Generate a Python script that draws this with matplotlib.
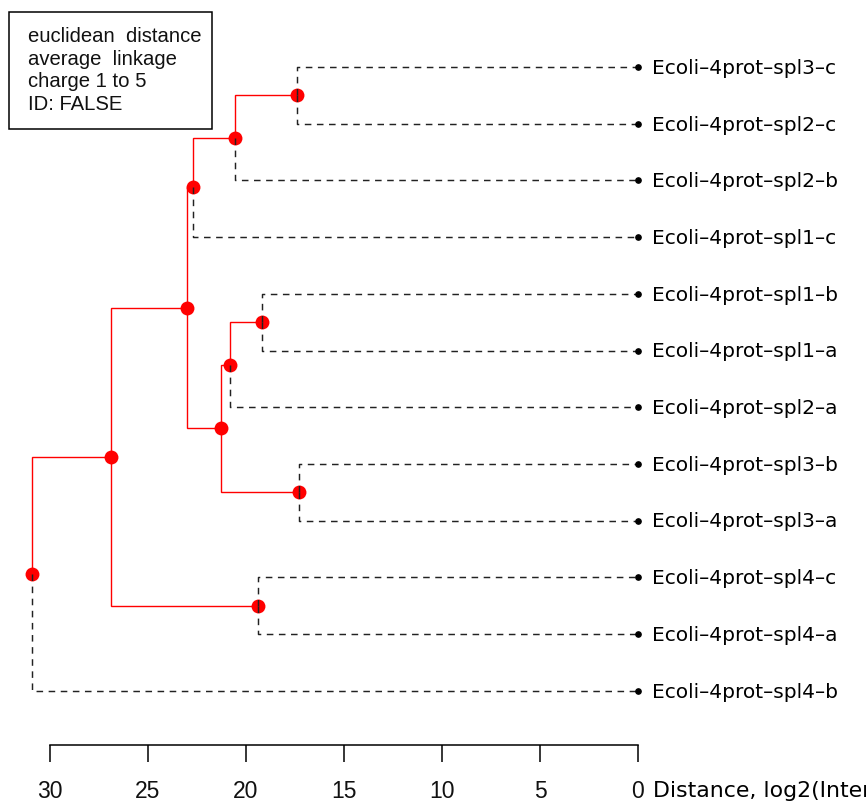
import matplotlib
matplotlib.use("Agg")
import matplotlib.pyplot as plt
from matplotlib.patches import Rectangle

# -------------------------------------------------------
# DATA
# -------------------------------------------------------

# leaves in display order, top to bottom
leaf_labels = [
    "Ecoli–4prot–spl3–c",
    "Ecoli–4prot–spl2–c",
    "Ecoli–4prot–spl2–b",
    "Ecoli–4prot–spl1–c",
    "Ecoli–4prot–spl1–b",
    "Ecoli–4prot–spl1–a",
    "Ecoli–4prot–spl2–a",
    "Ecoli–4prot–spl3–b",
    "Ecoli–4prot–spl3–a",
    "Ecoli–4prot–spl4–c",
    "Ecoli–4prot–spl4–a",
    "Ecoli–4prot–spl4–b",
]

# merges: node ids < 12 are leaves, new node = 12 + row index
merge_left = [0, 12, 13, 4, 15, 7, 16, 14, 9, 19, 21]
merge_right = [1, 2, 3, 5, 6, 8, 17, 18, 10, 20, 11]
merge_height = [17.4, 20.55, 22.7, 19.2, 20.8, 17.3, 21.3, 23.0, 19.4, 26.9, 30.9]

axis_ticks = [30, 25, 20, 15, 10, 5, 0]
info_lines = ["euclidean  distance", "average  linkage", "charge 1 to 5", "ID: FALSE"]
axis_title = "Distance, log2(Intensity)"

# -------------------------------------------------------
# LAYOUT
# -------------------------------------------------------

n = len(leaf_labels)
xpos = {i: 0.0 for i in range(n)}
ypos = {i: float(i) for i in range(n)}
children = {}
for k, (a, b, h) in enumerate(zip(merge_left, merge_right, merge_height)):
    node = n + k
    children[node] = (a, b)
    xpos[node] = h
    ypos[node] = (ypos[a] + ypos[b]) / 2

W, H = 866, 806
fig = plt.figure(figsize=(W / 100, H / 100), dpi=100)
fig.patch.set_facecolor("white")

# data axes spanning the whole figure; distance 30 -> px 50, 0 -> px 638
ppu = 588 / 30
x_left = 638 / ppu
x_right = -(W - 638) / ppu
row = 56.7
y_top = -67 / row
y_bot = (H - 67) / row

ax = fig.add_axes([0, 0, 1, 1])
ax.set_xlim(x_left, x_right)
ax.set_ylim(y_bot, y_top)
ax.axis("off")

# -------------------------------------------------------
# EDGES
# -------------------------------------------------------

for node, (a, b) in children.items():
    for c in (a, b):
        xs = [xpos[node], xpos[node], xpos[c]]
        ys = [ypos[node], ypos[c], ypos[c]]
        if c >= n:
            ax.plot(xs, ys, color="#ff0000", lw=1.0, zorder=2,
                    solid_joinstyle="miter")
        else:
            ax.plot(xs, ys, color="#222222", lw=1.05, zorder=3,
                    linestyle=(0, (4.5, 3.8)))

inner = list(children.keys())
ax.plot([xpos[i] for i in inner], [ypos[i] for i in inner], "o",
        color="#ff0000", ms=10, mec="none", zorder=2.5)
ax.plot([0] * n, list(range(n)), "o", color="black", ms=3.8, zorder=4)

for i, lab in enumerate(leaf_labels):
    ax.annotate(lab, (0, i), xytext=(10, -1), textcoords="offset points",
                va="center", ha="left", fontsize=14.5, family="DejaVu Sans",
                color="black")

# -------------------------------------------------------
# DISTANCE AXIS
# -------------------------------------------------------

axx = fig.add_axes([50 / W, 1 - 745 / H, 588 / W, 1e-5])
axx.set_xlim(30, 0)
axx.set_xticks(axis_ticks)
axx.set_xticklabels([str(t) for t in axis_ticks], fontsize=16.5,
                    family="Liberation Sans", color="#111111")
axx.set_yticks([])
for s in ("top", "left", "right"):
    axx.spines[s].set_visible(False)
axx.spines["bottom"].set_linewidth(1.1)
axx.tick_params(axis="x", direction="out", length=12, width=1.1, pad=13)
axx.patch.set_visible(False)

fig.text(653 / W, 1 - 797 / H, axis_title, fontsize=15.8, family="DejaVu Sans",
         va="baseline", ha="left")

# -------------------------------------------------------
# INFO BOX
# -------------------------------------------------------

fig.add_artist(Rectangle((9 / W, 1 - 129 / H), 203 / W, 117 / H,
                         transform=fig.transFigure, fill=False,
                         edgecolor="black", lw=1.1))
for j, line in enumerate(info_lines):
    fig.text(28 / W, 1 - (42 + 22.7 * j) / H, line, fontsize=14.6,
             family="Liberation Sans", va="baseline", ha="left",
             color="#111111")

fig.savefig("out.png", dpi=100)
